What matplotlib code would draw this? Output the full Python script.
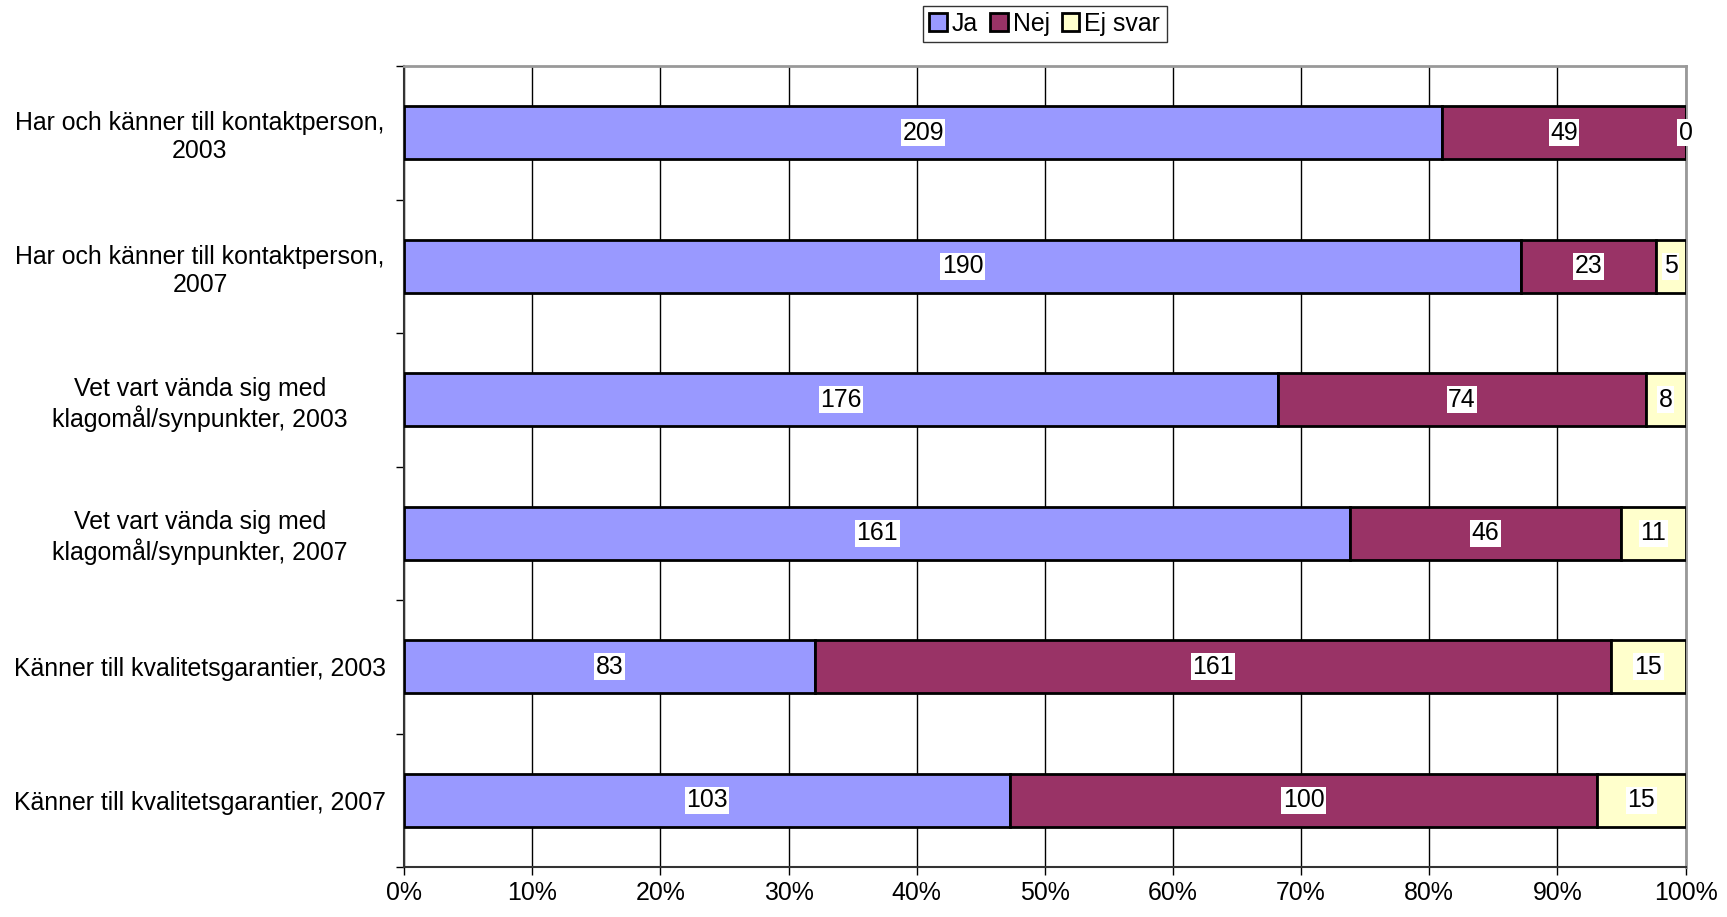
import numpy as np
import matplotlib as mpl
from matplotlib import pyplot as plt

CATEGORIES = [
    "Har och känner till kontaktperson,\n2003",
    "Har och känner till kontaktperson,\n2007",
    "Vet vart vända sig med\nklagomål/synpunkter, 2003",
    "Vet vart vända sig med\nklagomål/synpunkter, 2007",
    "Känner till kvalitetsgarantier, 2003",
    "Känner till kvalitetsgarantier, 2007",
]
SERIES = ["Ja", "Nej", "Ej svar"]
JA = [209, 190, 176, 161, 83, 103]
NEJ = [49, 23, 74, 46, 161, 100]
EJ_SVAR = [0, 5, 8, 11, 15, 15]
COLORS = ["#9999FF", "#993366", "#FFFFCC"]

mpl.rcParams['font.family'] = ['Liberation Sans', 'DejaVu Sans']
FONT_SIZE = 17.9

counts = np.array([JA, NEJ, EJ_SVAR], dtype=float)
shares = counts / counts.sum(axis=0)

fig = plt.figure(figsize=(17.27, 9.17), dpi=100)
ax = fig.add_axes([0.234, 0.0545, 0.742, 0.8735])

y = np.arange(len(CATEGORIES))
left = np.zeros(len(CATEGORIES))
for i, name in enumerate(SERIES):
    ax.barh(y, shares[i], left=left, height=0.4, color=COLORS[i],
            edgecolor="black", linewidth=2, label=name, zorder=3)
    for j in range(len(CATEGORIES)):
        ax.text(left[j] + shares[i][j] / 2, y[j], f"{int(counts[i][j])}",
                ha="center", va="center", fontsize=FONT_SIZE, zorder=5,
                bbox=dict(facecolor="white", edgecolor="none", pad=1))
    left += shares[i]

ax.set_xlim(0, 1)
ax.set_ylim(len(CATEGORIES) - 0.5, -0.5)
ax.set_xticks(np.linspace(0, 1, 11))
ax.set_xticklabels([f"{p}%" for p in range(0, 101, 10)], fontsize=FONT_SIZE)
ax.set_yticks(y)
ax.set_yticklabels(CATEGORIES, fontsize=FONT_SIZE, ha="center")
ax.tick_params(axis="y", length=0, pad=147)
ax.set_yticks(np.arange(len(CATEGORIES) + 1) - 0.5, minor=True)
ax.tick_params(axis="y", which="minor", length=6, width=1, color="black")
ax.tick_params(axis="x", length=6, width=1, pad=4)
ax.grid(axis="x", color="black", linewidth=1, zorder=0)
ax.set_axisbelow(True)

ax.spines["left"].set_color("#333333")
ax.spines["bottom"].set_color("#333333")
ax.spines["left"].set_linewidth(1.5)
ax.spines["bottom"].set_linewidth(1.5)
ax.spines["top"].set_color("#999999")
ax.spines["right"].set_color("#999999")
ax.spines["top"].set_linewidth(2)
ax.spines["right"].set_linewidth(2)

leg = fig.legend(loc="center", bbox_to_anchor=(0.605, 0.974), ncol=3,
                 fontsize=FONT_SIZE, frameon=True, fancybox=False,
                 handlelength=0.7, handleheight=0.7, handletextpad=0.2,
                 columnspacing=0.5, borderpad=0.25, borderaxespad=0)
leg.get_frame().set_edgecolor("black")
leg.get_frame().set_linewidth(1)

fig.savefig("out.png", dpi=100)
